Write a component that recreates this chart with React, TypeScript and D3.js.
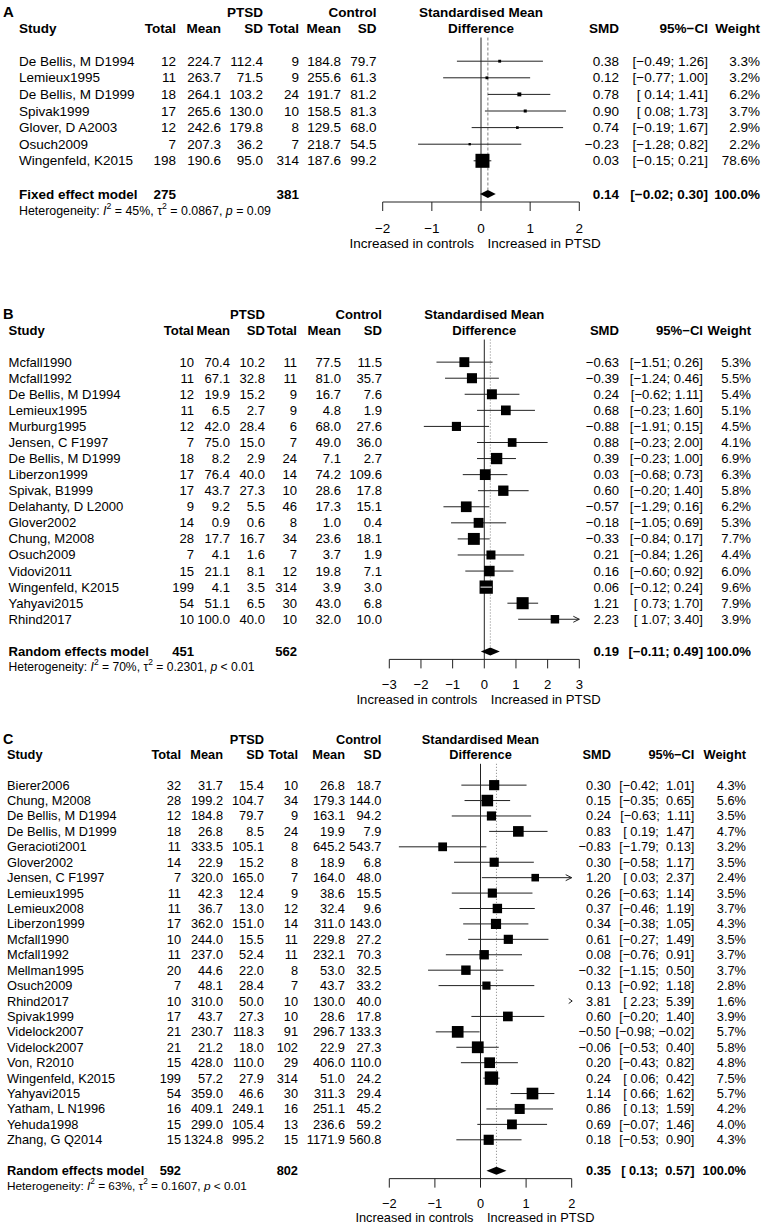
import * as d3 from 'd3';

// [study, ptsd n, ptsd mean, ptsd sd, control n, control mean, control sd, smd, lower, upper, weight %]
type Row = [string, number, number, number, number, number, number, number, number, number, number];
// [model, ptsd n, control n, smd, lower, upper, weight %]
type Summary = [string, number, number, number, number, number, number];

const STUDIES_A: Row[] = [
  ['De Bellis, M D1994', 12, 224.7, 112.4, 9, 184.8, 79.7, 0.38, -0.49, 1.26, 3.3],
  ['Lemieux1995', 11, 263.7, 71.5, 9, 255.6, 61.3, 0.12, -0.77, 1.0, 3.2],
  ['De Bellis, M D1999', 18, 264.1, 103.2, 24, 191.7, 81.2, 0.78, 0.14, 1.41, 6.2],
  ['Spivak1999', 17, 265.6, 130.0, 10, 158.5, 81.3, 0.9, 0.08, 1.73, 3.7],
  ['Glover, D A2003', 12, 242.6, 179.8, 8, 129.5, 68.0, 0.74, -0.19, 1.67, 2.9],
  ['Osuch2009', 7, 207.3, 36.2, 7, 218.7, 54.5, -0.23, -1.28, 0.82, 2.2],
  ['Wingenfeld, K2015', 198, 190.6, 95.0, 314, 187.6, 99.2, 0.03, -0.15, 0.21, 78.6],
];
const SUMMARY_A: Summary = ['Fixed effect model', 275, 381, 0.14, -0.02, 0.3, 100.0];
const HET_A = ['45%', '0.0867', '= 0.09'];
const TICKS_A = [-2, -1, 0, 1, 2];

const STUDIES_B: Row[] = [
  ['Mcfall1990', 10, 70.4, 10.2, 11, 77.5, 11.5, -0.63, -1.51, 0.26, 5.3],
  ['Mcfall1992', 11, 67.1, 32.8, 11, 81.0, 35.7, -0.39, -1.24, 0.46, 5.5],
  ['De Bellis, M D1994', 12, 19.9, 15.2, 9, 16.7, 7.6, 0.24, -0.62, 1.11, 5.4],
  ['Lemieux1995', 11, 6.5, 2.7, 9, 4.8, 1.9, 0.68, -0.23, 1.6, 5.1],
  ['Murburg1995', 12, 42.0, 28.4, 6, 68.0, 27.6, -0.88, -1.91, 0.15, 4.5],
  ['Jensen, C F1997', 7, 75.0, 15.0, 7, 49.0, 36.0, 0.88, -0.23, 2.0, 4.1],
  ['De Bellis, M D1999', 18, 8.2, 2.9, 24, 7.1, 2.7, 0.39, -0.23, 1.0, 6.9],
  ['Liberzon1999', 17, 76.4, 40.0, 14, 74.2, 109.6, 0.03, -0.68, 0.73, 6.3],
  ['Spivak, B1999', 17, 43.7, 27.3, 10, 28.6, 17.8, 0.6, -0.2, 1.4, 5.8],
  ['Delahanty, D L2000', 9, 9.2, 5.5, 46, 17.3, 15.1, -0.57, -1.29, 0.16, 6.2],
  ['Glover2002', 14, 0.9, 0.6, 8, 1.0, 0.4, -0.18, -1.05, 0.69, 5.3],
  ['Chung, M2008', 28, 17.7, 16.7, 34, 23.6, 18.1, -0.33, -0.84, 0.17, 7.7],
  ['Osuch2009', 7, 4.1, 1.6, 7, 3.7, 1.9, 0.21, -0.84, 1.26, 4.4],
  ['Vidovi2011', 15, 21.1, 8.1, 12, 19.8, 7.1, 0.16, -0.6, 0.92, 6.0],
  ['Wingenfeld, K2015', 199, 4.1, 3.5, 314, 3.9, 3.0, 0.06, -0.12, 0.24, 9.6],
  ['Yahyavi2015', 54, 51.1, 6.5, 30, 43.0, 6.8, 1.21, 0.73, 1.7, 7.9],
  ['Rhind2017', 10, 100.0, 40.0, 10, 32.0, 10.0, 2.23, 1.07, 3.4, 3.9],
];
const SUMMARY_B: Summary = ['Random effects model', 451, 562, 0.19, -0.11, 0.49, 100.0];
const HET_B = ['70%', '0.2301', '< 0.01'];
const TICKS_B = [-3, -2, -1, 0, 1, 2, 3];

const STUDIES_C: Row[] = [
  ['Bierer2006', 32, 31.7, 15.4, 10, 26.8, 18.7, 0.3, -0.42, 1.01, 4.3],
  ['Chung, M2008', 28, 199.2, 104.7, 34, 179.3, 144.0, 0.15, -0.35, 0.65, 5.6],
  ['De Bellis, M D1994', 12, 184.8, 79.7, 9, 163.1, 94.2, 0.24, -0.63, 1.11, 3.5],
  ['De Bellis, M D1999', 18, 26.8, 8.5, 24, 19.9, 7.9, 0.83, 0.19, 1.47, 4.7],
  ['Geracioti2001', 11, 333.5, 105.1, 8, 645.2, 543.7, -0.83, -1.79, 0.13, 3.2],
  ['Glover2002', 14, 22.9, 15.2, 8, 18.9, 6.8, 0.3, -0.58, 1.17, 3.5],
  ['Jensen, C F1997', 7, 320.0, 165.0, 7, 164.0, 48.0, 1.2, 0.03, 2.37, 2.4],
  ['Lemieux1995', 11, 42.3, 12.4, 9, 38.6, 15.5, 0.26, -0.63, 1.14, 3.5],
  ['Lemieux2008', 11, 36.7, 13.0, 12, 32.4, 9.6, 0.37, -0.46, 1.19, 3.7],
  ['Liberzon1999', 17, 362.0, 151.0, 14, 311.0, 143.0, 0.34, -0.38, 1.05, 4.3],
  ['Mcfall1990', 10, 244.0, 15.5, 11, 229.8, 27.2, 0.61, -0.27, 1.49, 3.5],
  ['Mcfall1992', 11, 237.0, 52.4, 11, 232.1, 70.3, 0.08, -0.76, 0.91, 3.7],
  ['Mellman1995', 20, 44.6, 22.0, 8, 53.0, 32.5, -0.32, -1.15, 0.5, 3.7],
  ['Osuch2009', 7, 48.1, 28.4, 7, 43.7, 33.2, 0.13, -0.92, 1.18, 2.8],
  ['Rhind2017', 10, 310.0, 50.0, 10, 130.0, 40.0, 3.81, 2.23, 5.39, 1.6],
  ['Spivak1999', 17, 43.7, 27.3, 10, 28.6, 17.8, 0.6, -0.2, 1.4, 3.9],
  ['Videlock2007', 21, 230.7, 118.3, 91, 296.7, 133.3, -0.5, -0.98, -0.02, 5.7],
  ['Videlock2007', 21, 21.2, 18.0, 102, 22.9, 27.3, -0.06, -0.53, 0.4, 5.8],
  ['Von, R2010', 15, 428.0, 110.0, 29, 406.0, 110.0, 0.2, -0.43, 0.82, 4.8],
  ['Wingenfeld, K2015', 199, 57.2, 27.9, 314, 51.0, 24.2, 0.24, 0.06, 0.42, 7.5],
  ['Yahyavi2015', 54, 359.0, 46.6, 30, 311.3, 29.4, 1.14, 0.66, 1.62, 5.7],
  ['Yatham, L N1996', 16, 409.1, 249.1, 16, 251.1, 45.2, 0.86, 0.13, 1.59, 4.2],
  ['Yehuda1998', 15, 299.0, 105.4, 13, 236.6, 59.2, 0.69, -0.07, 1.46, 4.0],
  ['Zhang, G Q2014', 15, 1324.8, 995.2, 15, 1171.9, 560.8, 0.18, -0.53, 0.9, 4.3],
];
const SUMMARY_C: Summary = ['Random effects model', 592, 802, 0.35, 0.13, 0.57, 100.0];
const HET_C = ['63%', '0.1607', '< 0.01'];
const TICKS_C = [-2, -1, 0, 1, 2];

const FONT = '"Liberation Sans", Arial, Helvetica, sans-serif';

interface Layout {
  label: string;
  hdr2: number;
  step: number;
  font: number;
  het: number;
  studyX: number;
  cols: number[];
  smdX: number;
  ciX: number;
  wX: number;
  range: [number, number];
  maxSq: number;
  refDash: string;
}

const LAYOUT_A: Layout = {
  label: 'A', hdr2: 28, step: 16.6, font: 13.5, het: 12.4, studyX: 19,
  cols: [176, 221, 263, 299, 341, 376.5], smdX: 619, ciX: 708, wX: 760,
  range: [382.7, 579.3], maxSq: 14, refDash: '3 2',
};
const LAYOUT_B: Layout = {
  label: 'B', hdr2: 330, step: 16.07, font: 13.1, het: 12.1, studyX: 8.5,
  cols: [194, 230, 265, 297, 341, 382], smdX: 619, ciX: 703, wX: 751,
  range: [389.3, 579.3], maxSq: 13.3, refDash: '1 2',
};
const LAYOUT_C: Layout = {
  label: 'C', hdr2: 754.3, step: 15.42, font: 12.8, het: 11.8, studyX: 7,
  cols: [181, 223, 264, 298, 345, 381.4], smdX: 611, ciX: 694.4, wX: 746,
  range: [389.3, 571.7], maxSq: 13.4, refDash: '1 2',
};

const fmt2 = (v: number) => (v < 0 ? '\u2212' : '') + Math.abs(v).toFixed(2);
const tickFmt = (v: number) => (v < 0 ? '\u2212' + Math.abs(v) : String(v));

function ForestPanel({ cfg, rows, summary, het, ticks }: { cfg: Layout; rows: Row[]; summary: Summary; het: string[]; ticks: number[] }) {
  const { step, hdr2, font } = cfg;
  const hdr1 = hdr2 - step * 0.95;
  const firstY = hdr2 + 2 * step;
  const rowY = (i: number) => firstY + i * step;
  const sumY = firstY + (rows.length + 1) * step;
  const axisY = sumY + 8;
  const lineTop = hdr2 + 9.5;
  const dom = d3.extent(ticks) as [number, number];
  const x = d3.scaleLinear().domain(dom).range(cfg.range);
  const sq = d3.scaleSqrt().domain([0, d3.max(rows, r => r[10]) ?? 1]).range([0, cfg.maxSq]);
  const center = (cfg.range[0] + cfg.range[1]) / 2;

  const lowNeg = rows.some(r => r[8] < 0) || summary[4] < 0;
  const upNeg = rows.some(r => r[9] < 0) || summary[5] < 0;
  const pad = (v: number, neg: boolean) => (v >= 0 && neg ? ' ' : '') + fmt2(v);
  const ci = (lo: number, hi: number) => `[${pad(lo, lowNeg)}; ${pad(hi, upNeg)}]`;

  const txt = { fontFamily: FONT, fontSize: font, dominantBaseline: 'central' as const, fill: '#000' };
  const bold = { ...txt, fontWeight: 700 };
  const [c0, c1, c2, c3, c4, c5] = cfg.cols;
  const line = '#222';

  return (
    <g>
      <text x={3} y={hdr1 - 1} {...bold} fontSize={font + 1.5}>{cfg.label}</text>
      {/* headers */}
      <text x={c2} y={hdr1} textAnchor="end" {...bold}>PTSD</text>
      <text x={c5} y={hdr1} textAnchor="end" {...bold}>Control</text>
      <text x={center} y={hdr1} textAnchor="middle" {...bold}>Standardised Mean</text>
      <text x={cfg.studyX} y={hdr2} {...bold}>Study</text>
      {['Total', 'Mean', 'SD', 'Total', 'Mean', 'SD'].map((h, i) => (
        <text key={i} x={cfg.cols[i]} y={hdr2} textAnchor="end" {...bold}>{h}</text>
      ))}
      <text x={center} y={hdr2} textAnchor="middle" {...bold}>Difference</text>
      <text x={cfg.smdX} y={hdr2} textAnchor="end" {...bold}>SMD</text>
      <text x={cfg.ciX} y={hdr2} textAnchor="end" {...bold}>95%{'\u2212'}CI</text>
      <text x={cfg.wX} y={hdr2} textAnchor="end" {...bold}>Weight</text>

      {/* reference lines */}
      <line x1={x(0)} x2={x(0)} y1={lineTop} y2={axisY} stroke={line} strokeWidth={1} />
      <line x1={x(summary[3])} x2={x(summary[3])} y1={lineTop} y2={sumY - 4} stroke="#808080" strokeWidth={1} strokeDasharray={cfg.refDash} />

      {rows.map((r, i) => {
        const y = rowY(i);
        const [name, n1, m1, s1, n2, m2, s2, est, lo, hi, w] = r;
        const side = sq(w);
        const outRight = lo > dom[1];
        const drawLo = Math.max(lo, dom[0]);
        const drawHi = Math.min(hi, dom[1]);
        const xe = x(dom[1]);
        return (
          <g key={i}>
            <text x={cfg.studyX} y={y} {...txt}>{name}</text>
            <text x={c0} y={y} textAnchor="end" {...txt}>{n1}</text>
            <text x={c1} y={y} textAnchor="end" {...txt}>{m1.toFixed(1)}</text>
            <text x={c2} y={y} textAnchor="end" {...txt}>{s1.toFixed(1)}</text>
            <text x={c3} y={y} textAnchor="end" {...txt}>{n2}</text>
            <text x={c4} y={y} textAnchor="end" {...txt}>{m2.toFixed(1)}</text>
            <text x={c5} y={y} textAnchor="end" {...txt}>{s2.toFixed(1)}</text>
            <text x={cfg.smdX} y={y} textAnchor="end" {...txt}>{fmt2(est)}</text>
            <text x={cfg.ciX} y={y} textAnchor="end" {...txt} style={{ whiteSpace: 'pre' }}>{ci(lo, hi)}</text>
            <text x={cfg.wX} y={y} textAnchor="end" {...txt}>{w.toFixed(1)}%</text>
            {outRight ? (
              <path d={`M${xe - 3},${y - 2.5} L${xe + 0.5},${y} L${xe - 3},${y + 2.5}`} fill="none" stroke={line} strokeWidth={1} />
            ) : (
              <g>
                <line x1={x(drawLo)} x2={x(drawHi)} y1={y} y2={y} stroke={line} strokeWidth={1} />
                {hi > dom[1] && (
                  <path d={`M${xe - 6},${y - 3} L${xe},${y} L${xe - 6},${y + 3}`} fill="none" stroke={line} strokeWidth={1} />
                )}
                {lo < dom[0] && (
                  <path d={`M${x(dom[0]) + 6},${y - 3} L${x(dom[0])},${y} L${x(dom[0]) + 6},${y + 3}`} fill="none" stroke={line} strokeWidth={1} />
                )}
                <rect x={x(est) - side / 2} y={y - side / 2} width={side} height={side} fill="#000" />
                {x(hi) - x(lo) < side && (
                  <line x1={x(lo)} x2={x(hi)} y1={y} y2={y} stroke="#fff" strokeWidth={1} />
                )}
              </g>
            )}
          </g>
        );
      })}

      {/* summary */}
      <text x={cfg.studyX} y={sumY} {...bold}>{summary[0]}</text>
      <text x={c0} y={sumY} textAnchor="end" {...bold}>{summary[1]}</text>
      <text x={c3} y={sumY} textAnchor="end" {...bold}>{summary[2]}</text>
      <text x={cfg.smdX} y={sumY} textAnchor="end" {...bold}>{fmt2(summary[3])}</text>
      <text x={cfg.ciX} y={sumY} textAnchor="end" {...bold} style={{ whiteSpace: 'pre' }}>{ci(summary[4], summary[5])}</text>
      <text x={cfg.wX} y={sumY} textAnchor="end" {...bold}>{summary[6].toFixed(1)}%</text>
      <path
        d={`M${x(summary[4])},${sumY} L${x(summary[3])},${sumY - 4} L${x(summary[5])},${sumY} L${x(summary[3])},${sumY + 4} Z`}
        fill="#000"
      />
      <text x={cfg.studyX} y={sumY + step} {...txt} fontSize={cfg.het}>
        Heterogeneity: <tspan fontStyle="italic">I</tspan>
        <tspan fontSize={cfg.het * 0.7} dy={-5}>2</tspan>
        <tspan dy={5}> = {het[0]}, {'\u03c4'}</tspan>
        <tspan fontSize={cfg.het * 0.7} dy={-5}>2</tspan>
        <tspan dy={5}> = {het[1]}, </tspan>
        <tspan fontStyle="italic">p</tspan> {het[2]}
      </text>

      {/* axis */}
      <line x1={cfg.range[0]} x2={cfg.range[1]} y1={axisY} y2={axisY} stroke={line} strokeWidth={1} />
      {ticks.map(t => (
        <g key={t}>
          <line x1={x(t)} x2={x(t)} y1={axisY} y2={axisY + 9} stroke={line} strokeWidth={1} />
          <text x={x(t)} y={axisY + 1.58 * step} textAnchor="middle" {...txt}>{tickFmt(t)}</text>
        </g>
      ))}
      <text x={x(0) - 7} y={axisY + 2.52 * step} textAnchor="end" {...txt}>Increased in controls</text>
      <text x={x(0) + 6.5} y={axisY + 2.52 * step} {...txt}>Increased in PTSD</text>
    </g>
  );
}

export default function App() {
  return (
    <div style={{ position: 'absolute', left: 0, top: 0 }}>
      <svg width={767} height={1230} style={{ display: 'block', background: '#fff' }}>
        <ForestPanel cfg={LAYOUT_A} rows={STUDIES_A} summary={SUMMARY_A} het={HET_A} ticks={TICKS_A} />
        <ForestPanel cfg={LAYOUT_B} rows={STUDIES_B} summary={SUMMARY_B} het={HET_B} ticks={TICKS_B} />
        <ForestPanel cfg={LAYOUT_C} rows={STUDIES_C} summary={SUMMARY_C} het={HET_C} ticks={TICKS_C} />
      </svg>
    </div>
  );
}
